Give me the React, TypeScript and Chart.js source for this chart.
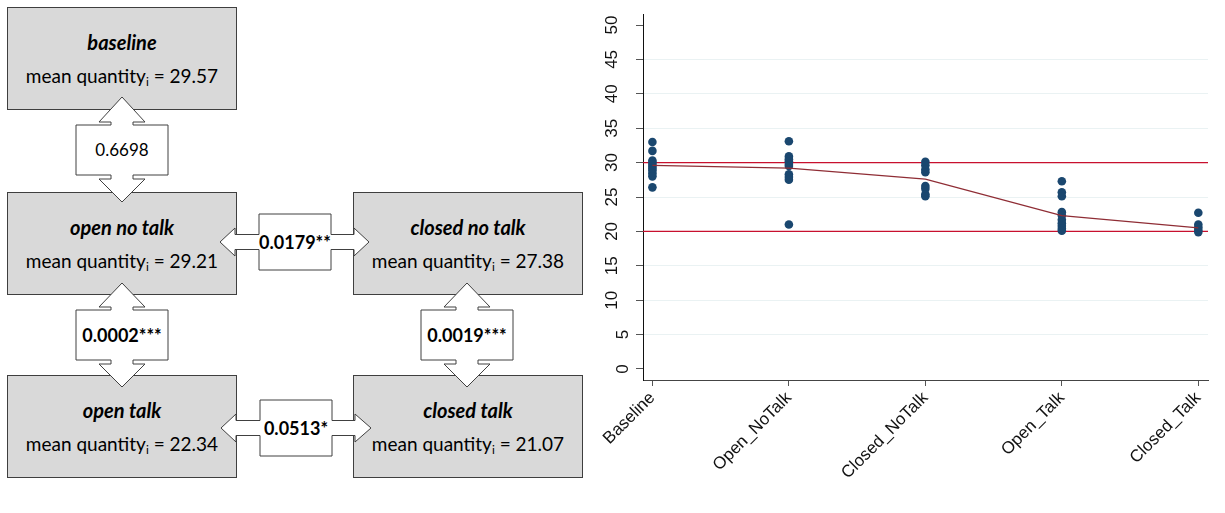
import React, { useEffect, useRef } from "react";
import { Chart, registerables } from "chart.js";

Chart.register(...registerables);

// ---------- data ----------
const categories = ["Baseline", "Open_NoTalk", "Closed_NoTalk", "Open_Talk", "Closed_Talk"];
const baselineValues = [33.0, 31.7, 30.3, 30.0, 29.7, 29.4, 29.1, 28.8, 28.4, 28.0, 26.4];
const openNoTalkValues = [33.1, 30.9, 30.5, 30.2, 29.8, 29.5, 28.3, 27.9, 27.5, 21.0];
const closedNoTalkValues = [30.1, 29.6, 29.0, 28.6, 26.6, 26.2, 25.4, 25.1];
const openTalkValues = [27.3, 25.7, 25.1, 22.8, 22.3, 21.7, 21.2, 20.8, 20.4, 20.1];
const closedTalkValues = [22.7, 21.0, 20.6, 20.2, 19.9];
const meanLine = [29.6, 29.2, 27.6, 22.3, 20.5];
const referenceLevels = [30, 20];
const yTickValues = [0, 5, 10, 15, 20, 25, 30, 35, 40, 45, 50];

const conditionNames = ["baseline", "open no talk", "closed no talk", "open talk", "closed talk"];
const meanQuantities = ["29.57", "29.21", "27.38", "22.34", "21.07"];
const pValueLabels = ["0.6698", "0.0179**", "0.0002***", "0.0019***", "0.0513*"];

const X_MIN = -0.069;
const X_MAX = 4.071;
const Y_MIN = -1.6;
const Y_MAX = 51.6;

const FONT = "'Liberation Sans', Arial, sans-serif";
const DFONT = "Lato, 'Open Sans', sans-serif";

const yLabelPlugin = {
  id: "yLabels",
  afterDraw(chart: any) {
    const ctx = chart.ctx;
    const ys = chart.scales.y;
    const left = chart.chartArea.left;
    ctx.save();
    ctx.fillStyle = "#111";
    ctx.font = `17px ${FONT}`;
    ctx.textAlign = "center";
    ctx.textBaseline = "middle";
    yTickValues.forEach((v) => {
      const s = String(v);
      const py = ys.getPixelForValue(v);
      const px = left - (s.length > 1 ? 31 : 20);
      ctx.save();
      ctx.translate(px, py);
      ctx.rotate(-Math.PI / 2);
      ctx.fillText(s, 0, 0);
      ctx.restore();
    });
    ctx.restore();
  },
};

function ScatterPanel() {
  const ref = useRef<HTMLCanvasElement | null>(null);
  useEffect(() => {
    if (!ref.current) return;
    const groups = [baselineValues, openNoTalkValues, closedNoTalkValues, openTalkValues, closedTalkValues];
    const points = groups.flatMap((vals, i) => vals.map((v) => ({ x: i, y: v })));
    const chart = new Chart(ref.current, {
      type: "scatter",
      data: {
        datasets: [
          {
            type: "line",
            data: meanLine.map((v, i) => ({ x: i, y: v })),
            borderColor: "#8f2d35",
            borderWidth: 1.3,
            pointRadius: 0,
            fill: false,
            order: 0,
          } as any,
          {
            data: points,
            backgroundColor: "#1a476f",
            borderColor: "#1a476f",
            pointRadius: 4.3,
            borderWidth: 0,
            order: 1,
          },
          ...referenceLevels.map((lvl) => ({
            type: "line",
            data: [
              { x: X_MIN, y: lvl },
              { x: X_MAX, y: lvl },
            ],
            borderColor: "#c8102e",
            borderWidth: 1.4,
            pointRadius: 0,
            fill: false,
            order: 2,
          })),
        ] as any,
      },
      options: {
        animation: false,
        responsive: false,
        maintainAspectRatio: false,
        layout: { padding: { top: 14, right: 17, left: 0, bottom: 0 } },
        plugins: { legend: { display: false }, tooltip: { enabled: false } },
        scales: {
          x: {
            type: "linear",
            min: X_MIN,
            max: X_MAX,
            afterBuildTicks: (s: any) => {
              s.ticks = categories.map((_, i) => ({ value: i }));
            },
            afterFit: (s: any) => {
              s.height = 133;
            },
            ticks: {
              autoSkip: false,
              minRotation: 45,
              maxRotation: 45,
              color: "#111",
              padding: 2,
              font: { family: FONT, size: 17 },
              callback: (v: any) => categories[Math.round(v)] ?? "",
            },
            grid: { drawOnChartArea: false, drawTicks: true, tickLength: 6, tickColor: "#555" },
            border: { color: "#444", width: 1 },
          },
          y: {
            type: "linear",
            min: Y_MIN,
            max: Y_MAX,
            afterBuildTicks: (s: any) => {
              s.ticks = yTickValues.map((v) => ({ value: v }));
            },
            afterFit: (s: any) => {
              s.width = 63;
            },
            ticks: { display: false },
            grid: {
              color: (c: any) =>
                c.tick && (c.tick.value === 0 || c.tick.value === 50) ? "rgba(0,0,0,0)" : "#eaf2f3",
              lineWidth: 1,
              drawTicks: true,
              tickLength: 7,
              tickColor: "#555",
            },
            border: { color: "#111", width: 1 },
          },
        },
      } as any,
      plugins: [yLabelPlugin],
    });
    return () => chart.destroy();
  }, []);
  return (
    <canvas
      ref={ref}
      width={645}
      height={513}
      style={{ position: "absolute", left: 580, top: 0, width: 645, height: 513 }}
    />
  );
}

// ---------- diagram ----------
type BoxSpec = { x: number; y: number };
const BOX_W = 230;
const BOX_H = 103;
const boxes: BoxSpec[] = [
  { x: 7, y: 7 },
  { x: 7, y: 192 },
  { x: 353, y: 192 },
  { x: 7, y: 375 },
  { x: 353, y: 375 },
];

function vArrow(cx: number, t: number[], headHalf = 23, shaftHalf = 11, rectHalf = 46) {
  const [tipTop, hbTop, rTop, rBot, hbBot, tipBot] = t;
  const right = [
    [cx, tipTop],
    [cx + headHalf, hbTop],
    [cx + shaftHalf, hbTop],
    [cx + shaftHalf, rTop],
    [cx + rectHalf, rTop],
    [cx + rectHalf, rBot],
    [cx + shaftHalf, rBot],
    [cx + shaftHalf, hbBot],
    [cx + headHalf, hbBot],
    [cx, tipBot],
  ];
  const left = right
    .slice(1, -1)
    .reverse()
    .map(([x, y]) => [2 * cx - x, y]);
  return [...right, ...left].map((p) => p.join(",")).join(" ");
}

function hArrow(cy: number, t: number[], headHalf = 14, shaftHalf = 7.5, rectHalf = 28) {
  const [tipL, hbL, rL, rR, hbR, tipR] = t;
  const top = [
    [tipL, cy],
    [hbL, cy - headHalf],
    [hbL, cy - shaftHalf],
    [rL, cy - shaftHalf],
    [rL, cy - rectHalf],
    [rR, cy - rectHalf],
    [rR, cy - shaftHalf],
    [hbR, cy - shaftHalf],
    [hbR, cy - headHalf],
    [tipR, cy],
  ];
  const bottom = top
    .slice(1, -1)
    .reverse()
    .map(([x, y]) => [x, 2 * cy - y]);
  return [...top, ...bottom].map((p) => p.join(",")).join(" ");
}

const arrows = [
  { pts: vArrow(122, [97, 122, 125, 175, 179, 202]), cx: 122, cy: 150, label: 0, bold: false },
  { pts: hArrow(242, [220, 235, 259, 331, 354, 369]), cx: 295, cy: 242, label: 1, bold: true },
  { pts: vArrow(122, [283, 307, 310, 360, 364, 387]), cx: 122, cy: 335, label: 2, bold: true },
  { pts: vArrow(467, [283, 307, 310, 360, 364, 387]), cx: 467, cy: 335, label: 3, bold: true },
  { pts: hArrow(428, [221, 236, 260, 332, 355, 371]), cx: 296, cy: 428, label: 4, bold: true },
];

function Diagram() {
  return (
    <div style={{ position: "absolute", left: 0, top: 0, width: 590, height: 513, fontFamily: DFONT }}>
      {boxes.map((b, i) => (
        <div
          key={i}
          style={{
            position: "absolute",
            left: b.x,
            top: b.y,
            width: BOX_W,
            height: BOX_H,
            boxSizing: "border-box",
            background: "#d9d9d9",
            border: "1px solid #3f3f3f",
            display: "flex",
            flexDirection: "column",
            alignItems: "center",
            justifyContent: "center",
            color: "#000",
            fontSize: 19,
          }}
        >
          <div style={{ fontWeight: 700, fontStyle: "italic", fontSize: 20, lineHeight: "33px" }}>
            {conditionNames[i]}
          </div>
          <div style={{ lineHeight: "33px", whiteSpace: "nowrap" }}>
            mean quantity<sub style={{ fontSize: 12, verticalAlign: "-3px", lineHeight: 0 }}>i</sub> ={" "}
            {meanQuantities[i]}
          </div>
        </div>
      ))}
      <svg width={590} height={513} style={{ position: "absolute", left: 0, top: 0 }}>
        {arrows.map((a, i) => (
          <polygon key={i} points={a.pts} fill="#ffffff" stroke="#404040" strokeWidth={1} />
        ))}
      </svg>
      {arrows.map((a, i) => (
        <div
          key={"l" + i}
          style={{
            position: "absolute",
            left: a.cx - 60,
            top: a.cy - 12,
            width: 120,
            height: 24,
            lineHeight: "24px",
            textAlign: "center",
            fontSize: a.bold ? 18 : 17,
            fontWeight: a.bold ? 700 : 400,
            color: "#000",
          }}
        >
          {pValueLabels[a.label]}
        </div>
      ))}
    </div>
  );
}

export default function App() {
  return (
    <div style={{ position: "fixed", left: 0, top: 0, width: 1225, height: 513, background: "#fff", overflow: "hidden" }}>
      <Diagram />
      <ScatterPanel />
    </div>
  );
}
